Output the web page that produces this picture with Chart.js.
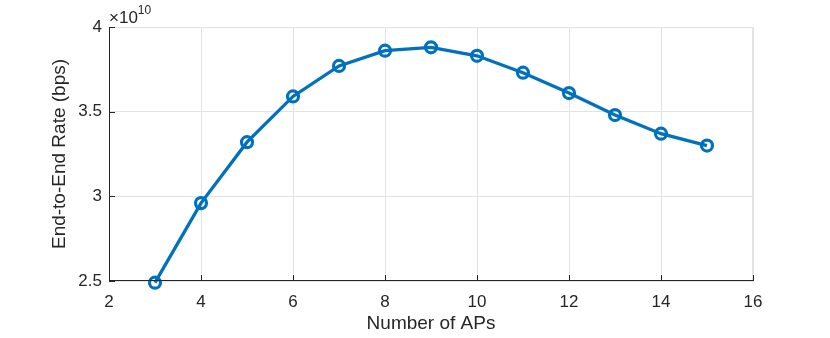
<!DOCTYPE html>
<html>
<head>
<meta charset="utf-8">
<script src="https://cdn.jsdelivr.net/npm/chart.js"></script>
<style>
  html, body { margin: 0; padding: 0; background: #fff; }
  #wrap { width: 830px; height: 338px; }
</style>
</head>
<body>
<div id="wrap"><canvas id="rateChart" width="830" height="338"></canvas></div>
<script>
// number of APs vs end-to-end rate
const numAPs = [3, 4, 5, 6, 7, 8, 9, 10, 11, 12, 13, 14, 15];
const rateBps = [2.49e10, 2.96e10, 3.32e10, 3.59e10, 3.77e10, 3.86e10, 3.88e10,
                 3.83e10, 3.73e10, 3.61e10, 3.48e10, 3.37e10, 3.30e10];
const xTicks = [2, 4, 6, 8, 10, 12, 14, 16];
const yTicks = [2.5e10, 3e10, 3.5e10, 4e10];

const FONT = 'Liberation Sans, Arial, Helvetica, sans-serif';
const TXT = '#262626';

// matlab-ish axes: dark left/bottom with inward ticks, light box, exponent label
const matlabAxes = {
  id: 'matlabAxes',
  afterDraw(chart) {
    const { ctx, chartArea: a, scales } = chart;
    ctx.save();
    ctx.strokeStyle = '#e3e3e3';
    ctx.lineWidth = 1;
    ctx.beginPath();
    ctx.moveTo(a.left, a.top + 0.5); ctx.lineTo(a.right, a.top + 0.5);
    ctx.moveTo(a.right - 0.5, a.top); ctx.lineTo(a.right - 0.5, a.bottom);
    ctx.stroke();

    ctx.strokeStyle = TXT;
    ctx.lineWidth = 1;
    ctx.beginPath();
    ctx.moveTo(a.left + 0.5, a.top); ctx.lineTo(a.left + 0.5, a.bottom);
    ctx.moveTo(a.left, a.bottom - 0.5); ctx.lineTo(a.right, a.bottom - 0.5);
    for (const v of xTicks) {
      const px = Math.round(scales.x.getPixelForValue(v)) + 0.5;
      ctx.moveTo(px, a.bottom); ctx.lineTo(px, a.bottom - 6);
    }
    for (const v of yTicks) {
      const py = Math.round(scales.y.getPixelForValue(v)) + 0.5;
      ctx.moveTo(a.left, py); ctx.lineTo(a.left + 6, py);
    }
    ctx.stroke();

    ctx.fillStyle = TXT;
    ctx.textBaseline = 'alphabetic';
    ctx.textAlign = 'left';
    ctx.font = '17px ' + FONT;
    ctx.fillText('\u00d710', a.left, a.top - 4);
    const w = ctx.measureText('\u00d710').width;
    ctx.font = '12px ' + FONT;
    ctx.fillText('10', a.left + w, a.top - 13);
    ctx.restore();
  }
};

new Chart(document.getElementById('rateChart'), {
  type: 'line',
  data: {
    datasets: [{
      data: numAPs.map((x, i) => ({ x: x, y: rateBps[i] })),
      borderColor: '#0072BD',
      borderWidth: 3.3,
      pointRadius: 5.5,
      pointBorderWidth: 3.2,
      pointBackgroundColor: 'rgba(0,0,0,0)',
      pointBorderColor: '#0072BD',
      tension: 0,
      clip: false
    }]
  },
  options: {
    responsive: false,
    animation: false,
    devicePixelRatio: 1,
    layout: { padding: { left: 44, right: 77, top: 27, bottom: 0 } },
    plugins: { legend: { display: false }, tooltip: { enabled: false } },
    scales: {
      x: {
        type: 'linear',
        min: 2, max: 16,
        afterBuildTicks: s => { s.ticks = xTicks.map(v => ({ value: v })); },
        afterFit: s => { s.height = 57; },
        grid: { color: '#e3e3e3', drawTicks: false },
        border: { display: false },
        ticks: { color: TXT, font: { family: FONT, size: 17 }, padding: 11, maxRotation: 0 },
        title: { display: true, text: 'Number of APs', color: TXT,
                 font: { family: FONT, size: 19 }, padding: { top: 0, bottom: 3 } }
      },
      y: {
        type: 'linear',
        min: 2.5e10, max: 4e10,
        afterBuildTicks: s => { s.ticks = yTicks.map(v => ({ value: v })); },
        afterFit: s => { s.width = 65; },
        grid: { color: '#e3e3e3', drawTicks: false },
        border: { display: false },
        ticks: { color: TXT, font: { family: FONT, size: 17 }, padding: 7,
                 callback: v => String(v / 1e10) },
        title: { display: true, text: 'End-to-End Rate (bps)', color: TXT,
                 font: { family: FONT, size: 19 }, padding: { top: 4, bottom: 4 } }
      }
    }
  },
  plugins: [matlabAxes]
});
</script>
</body>
</html>
